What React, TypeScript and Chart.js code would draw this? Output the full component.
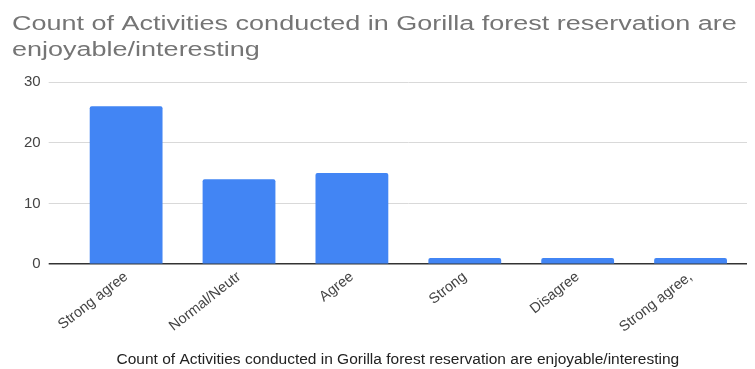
import React, { useEffect, useRef } from "react";
import { Chart, registerables } from "chart.js";

Chart.register(...registerables);

const titleLines = [
  "Count of Activities conducted in Gorilla forest reservation are",
  "enjoyable/interesting",
];
const categories = ["Strong agree", "Normal/Neutr", "Agree", "Strong", "Disagree", "Strong agree,"];
const counts = [26, 14, 15, 1, 1, 1];
const yTicks = [0, 10, 20, 30];
const xAxisTitle = "Count of Activities conducted in Gorilla forest reservation are enjoyable/interesting";

const FONT = "Liberation Sans, Arial, sans-serif";

const textDecor = {
  id: "textDecor",
  afterDraw(chart: any) {
    const ctx = chart.ctx as CanvasRenderingContext2D;
    ctx.save();
    ctx.fillStyle = "#757575";
    ctx.font = `20px ${FONT}`;
    ctx.textBaseline = "alphabetic";
    ctx.textAlign = "left";
    titleLines.forEach((line, i) => {
      ctx.save();
      ctx.translate(12, 30 + i * 25.5);
      ctx.scale(1.35, 1);
      ctx.fillText(line, 0, 0);
      ctx.restore();
    });
    // x-axis title, centred over the grid span
    const left = chart.chartArea.left - 21;
    const center = (left + chart.chartArea.right) / 2;
    ctx.fillStyle = "#222";
    ctx.font = `15.5px ${FONT}`;
    ctx.textAlign = "center";
    ctx.fillText(xAxisTitle, center, 364);
    ctx.restore();
  },
};

export default function App() {
  const ref = useRef<HTMLCanvasElement>(null);
  useEffect(() => {
    document.body.style.margin = "0";
    const ctx = ref.current!;
    const chart = new Chart(ctx, {
      type: "bar",
      data: {
        labels: categories,
        datasets: [
          {
            label: xAxisTitle,
            data: counts,
            backgroundColor: "#4285F4",
            borderRadius: 2,
            borderSkipped: "bottom",
            barPercentage: 0.645,
            categoryPercentage: 1,
          },
        ],
      },
      options: {
        animation: false,
        responsive: false,
        maintainAspectRatio: false,
        layout: { padding: { left: 16, right: 8, top: 82, bottom: 29 } },
        plugins: {
          legend: { display: false },
          tooltip: { enabled: false },
          title: { display: false },
        },
        scales: {
          x: {
            grid: { display: false, drawTicks: false },
            border: { display: false },
            ticks: {
              color: "#444",
              font: { family: FONT, size: 14.5 },
              minRotation: 38,
              maxRotation: 38,
              padding: 4,
              autoSkip: false,
            },
            title: { display: false, text: xAxisTitle },
          },
          y: {
            min: 0,
            max: 30,
            afterBuildTicks: (axis: any) => {
              axis.ticks = yTicks.map((v) => ({ value: v }));
            },
            border: { display: false },
            grid: {
              color: (c: any) => (c.tick && c.tick.value === 0 ? "#333" : "#d9d9d9"),
              tickColor: (c: any) => (c.tick && c.tick.value === 0 ? "#333" : "#d9d9d9"),
              lineWidth: (c: any) => (c.tick && c.tick.value === 0 ? 1.5 : 1),
              drawTicks: true,
              tickLength: 21,
            },
            ticks: {
              color: "#444",
              font: { family: FONT, size: 15 },
              padding: 8,
            },
          },
        },
      },
      plugins: [textDecor],
    });
    return () => chart.destroy();
  }, []);
  return (
    <div style={{ position: "absolute", left: 0, top: 0, width: 755, height: 369, background: "#fff" }}>
      <canvas ref={ref} width={755} height={369} />
    </div>
  );
}
